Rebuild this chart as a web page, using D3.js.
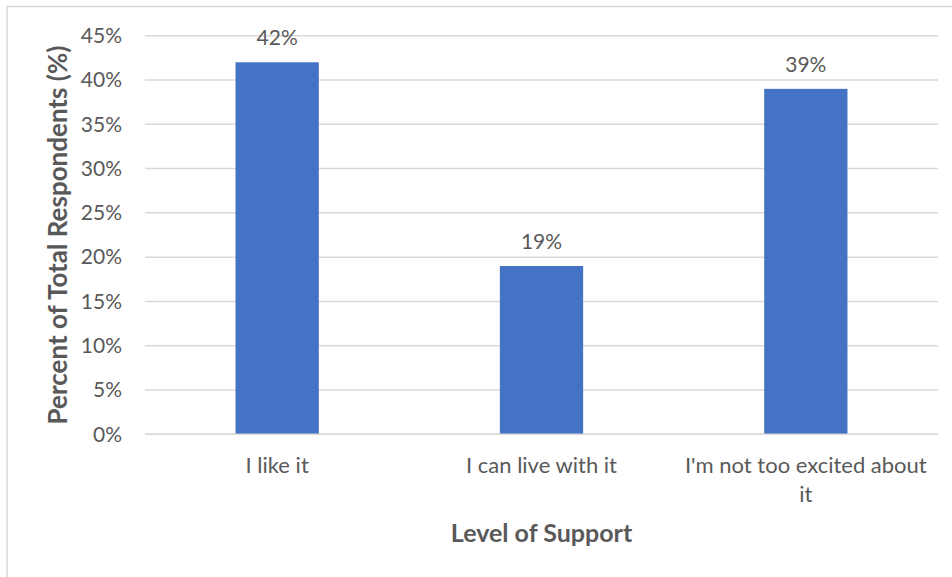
<!DOCTYPE html>
<html>
<head>
<meta charset="utf-8">
<script src="https://cdn.jsdelivr.net/npm/d3@7"></script>
<style>
  body { margin: 0; background: #fff; }
  text { font-family: Lato, "Open Sans", sans-serif; fill: #595959; }
</style>
</head>
<body>
<div id="mainDiv"></div>
<script>

// chart data
var categories = ["I like it", "I can live with it", "I'm not too excited about it"];
var percentValues = [42, 19, 39];
var yTicks = [0, 5, 10, 15, 20, 25, 30, 35, 40, 45];

var xTitle = "Level of Support";
var yTitle = "Percent of Total Respondents (%)";

var barColor = "#4472c4";
var gridColor = "#d9d9d9";

var width = 952, height = 577;
var plotLeft = 145, plotRight = 938, plotTop = 35.7, plotBottom = 434.3;
var labelMaxWidth = 250;

var svg = d3.select("#mainDiv").append("svg")
    .attr("width", width).attr("height", height).attr("id", "mainCanvas");

// chart border
svg.append("rect").attr("x", 7).attr("y", 6.5)
    .attr("width", 960).attr("height", 600)
    .attr("fill", "none").attr("stroke", gridColor).attr("stroke-width", 1.5);

var x = d3.scaleBand().domain(categories).range([plotLeft, plotRight]).paddingInner(0).paddingOuter(0);
var y = d3.scaleLinear().domain([0, 45]).range([plotBottom, plotTop]);

var barWidth = x.bandwidth() * 0.315;

// gridlines
svg.append("g").selectAll("line").data(yTicks).enter().append("line")
    .attr("x1", plotLeft).attr("x2", plotRight)
    .attr("y1", function(d){ return y(d); }).attr("y2", function(d){ return y(d); })
    .attr("stroke", gridColor).attr("stroke-width", 1.5);

// y tick labels
svg.append("g").selectAll("text").data(yTicks).enter().append("text")
    .attr("x", 122).attr("y", function(d){ return y(d); })
    .attr("dy", "0.35em").attr("text-anchor", "end")
    .style("font-size", "21px")
    .text(function(d){ return d + "%"; });

// bars
svg.append("g").selectAll("rect").data(percentValues).enter().append("rect")
    .attr("x", function(d, i){ return x(categories[i]) + (x.bandwidth() - barWidth) / 2; })
    .attr("y", function(d){ return y(d); })
    .attr("width", barWidth)
    .attr("height", function(d){ return plotBottom - y(d); })
    .attr("fill", barColor);

// redraw baseline over bars
svg.append("line").attr("x1", plotLeft).attr("x2", plotRight)
    .attr("y1", plotBottom).attr("y2", plotBottom)
    .attr("stroke", gridColor).attr("stroke-width", 1.5);

// data labels
svg.append("g").selectAll("text").data(percentValues).enter().append("text")
    .attr("x", function(d, i){ return x(categories[i]) + x.bandwidth() / 2; })
    .attr("y", function(d){ return y(d) - 17; })
    .attr("text-anchor", "middle")
    .style("font-size", "21px")
    .text(function(d){ return d + "%"; });

// category labels, wrapped like excel does
var catLabels = svg.append("g").selectAll("text").data(categories).enter().append("text")
    .attr("x", function(d){ return x(d) + x.bandwidth() / 2; })
    .attr("y", 473)
    .attr("text-anchor", "middle")
    .style("font-size", "22px");

catLabels.each(function(d){
    var el = d3.select(this);
    var words = d.split(" ");
    var line = [];
    var tspan = el.append("tspan").attr("x", el.attr("x")).attr("dy", 0);
    for (var i = 0; i < words.length; i++) {
        line.push(words[i]);
        tspan.text(line.join(" "));
        if (tspan.node().getComputedTextLength() > labelMaxWidth && line.length > 1) {
            line.pop();
            tspan.text(line.join(" "));
            line = [words[i]];
            tspan = el.append("tspan").attr("x", el.attr("x")).attr("dy", "29px").text(words[i]);
        }
    }
});

// axis titles
svg.append("text").attr("x", (plotLeft + plotRight) / 2).attr("y", 542)
    .attr("text-anchor", "middle")
    .style("font-size", "25px").style("font-weight", "bold")
    .text(xTitle);

svg.append("text")
    .attr("transform", "translate(67," + ((plotTop + plotBottom) / 2) + ") rotate(-90)")
    .attr("text-anchor", "middle")
    .style("font-size", "26px").style("font-weight", "bold")
    .text(yTitle);

</script>
</body>
</html>
